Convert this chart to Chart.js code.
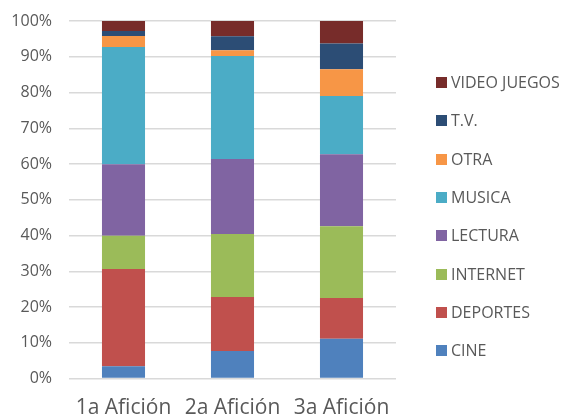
<!DOCTYPE html>
<html>
<head>
<meta charset="utf-8">
<script src="https://cdn.jsdelivr.net/npm/chart.js@4.4.1/dist/chart.umd.min.js"></script>
<style>
  html, body { margin: 0; padding: 0; background: #fff; }
  #wrap { width: 563px; height: 419px; position: relative; }
  #legend { position: absolute; left: 436px; top: 74px; font: 16px 'Open Sans'; color: #595959; }
  #legend div { height: 38.33px; display: flex; align-items: flex-start; white-space: nowrap; }
  #legend span.box { display: inline-block; width: 11px; height: 11px; margin: 3px 4px 0 0; }
  #legend span.txt { line-height: 17px; }
</style>
</head>
<body>
<div id="wrap"><canvas id="chart"></canvas><div id="legend"></div></div>
<script>
const categories = ['1a Afición', '2a Afición', '3a Afición'];

// percent of each hobby per rank
const cine = [3.4, 7.7, 11.1];
const deportes = [27.2, 15.1, 11.4];
const internet = [9.3, 17.6, 20.1];
const lectura = [20.0, 21.0, 20.1];
const musica = [32.8, 28.8, 16.3];
const otra = [3.1, 1.6, 7.5];
const tv = [1.4, 3.9, 7.2];
const videoJuegos = [2.8, 4.3, 6.3];

const yTicks = [0, 10, 20, 30, 40, 50, 60, 70, 80, 90, 100];

const series = [
  ['CINE', cine, '#4f81bd'],
  ['DEPORTES', deportes, '#c0504d'],
  ['INTERNET', internet, '#9bbb59'],
  ['LECTURA', lectura, '#8064a2'],
  ['MUSICA', musica, '#4bacc6'],
  ['OTRA', otra, '#f79646'],
  ['T.V.', tv, '#2c4d75'],
  ['VIDEO JUEGOS', videoJuegos, '#772c2a'],
];

const textColor = '#595959';
const font = 'Open Sans';

// legend: top item is the last series, like the original
const legend = document.getElementById('legend');
series.slice().reverse().forEach(([label, , color]) => {
  const row = document.createElement('div');
  row.innerHTML = `<span class="box" style="background:${color}"></span><span class="txt">${label}</span>`;
  legend.appendChild(row);
});

new Chart(document.getElementById('chart'), {
  type: 'bar',
  data: {
    labels: categories,
    datasets: series.map(([label, data, color]) => ({
      label,
      data,
      backgroundColor: color,
      borderWidth: 0,
      categoryPercentage: 1,
      barPercentage: 0.395,
    })),
  },
  options: {
    responsive: true,
    maintainAspectRatio: false,
    animation: false,
    layout: { padding: { top: 21, left: 10, right: 167, bottom: 0 } },
    plugins: {
      tooltip: { enabled: false },
      legend: { display: false },
    },
    scales: {
      x: {
        stacked: true,
        grid: { display: false, drawTicks: false },
        border: { display: false },
        ticks: {
          color: textColor,
          font: { family: font, size: 21, lineHeight: 1 },
          padding: 19,
          minRotation: 0,
          maxRotation: 0,
          autoSkip: false,
        },
        afterFit: (axis) => { axis.height = 40.5; },
      },
      y: {
        stacked: true,
        min: 0,
        max: 100,
        afterBuildTicks: (axis) => { axis.ticks = yTicks.map(v => ({ value: v })); },
        grid: { color: '#d9d9d9', lineWidth: 1.5, drawTicks: false },
        border: { display: false },
        ticks: {
          color: textColor,
          font: { family: font, size: 16 },
          padding: 17,
          callback: (v) => v + '%',
        },
        afterFit: (axis) => { axis.width = 59; axis.paddingTop = 0; axis.paddingBottom = 0; },
      },
    },
  },
});
</script>
</body>
</html>
